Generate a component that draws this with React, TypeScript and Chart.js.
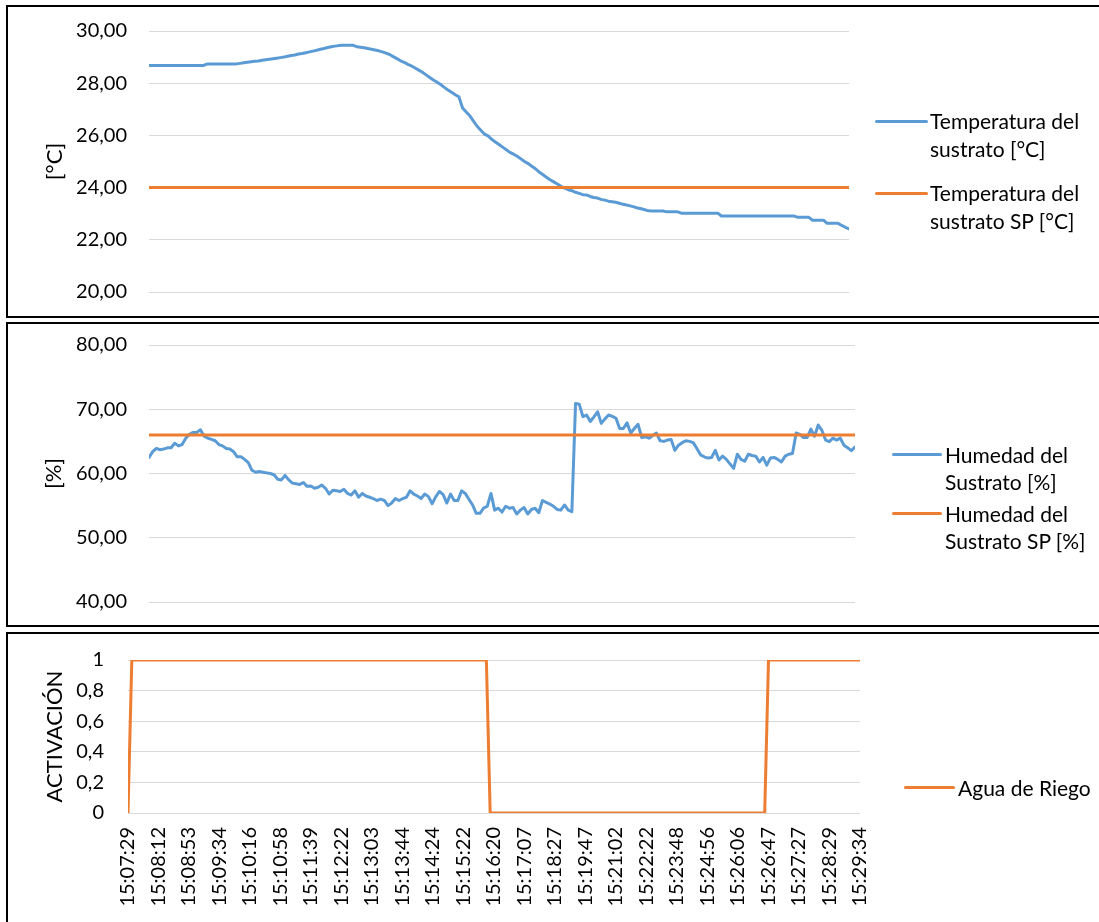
import React, { useEffect, useRef } from "react";
import { Chart, registerables } from "chart.js";

Chart.register(...registerables);

// ---------- DATA ----------
const TIME_LABELS = [
  "15:07:29", "15:08:12", "15:08:53", "15:09:34", "15:10:16", "15:10:58", "15:11:39",
  "15:12:22", "15:13:03", "15:13:44", "15:14:24", "15:15:22", "15:16:20", "15:17:07",
  "15:18:27", "15:19:47", "15:21:02", "15:22:22", "15:23:48", "15:24:56", "15:26:06",
  "15:26:47", "15:27:27", "15:28:29", "15:29:34",
];
const LABEL_STEP = 8; // one time label every 8 samples

const TEMP = [
  28.68, 28.68, 28.68, 28.68, 28.68, 28.68, 28.68, 28.68, 28.68, 28.68,
  28.68, 28.68, 28.68, 28.68, 28.68, 28.68, 28.74, 28.74, 28.74, 28.74,
  28.74, 28.74, 28.74, 28.74, 28.74, 28.76, 28.78, 28.8, 28.82, 28.84,
  28.85, 28.88, 28.9, 28.92, 28.94, 28.96, 28.98, 29.0, 29.03, 29.06,
  29.08, 29.12, 29.14, 29.17, 29.2, 29.23, 29.26, 29.3, 29.33, 29.37,
  29.4, 29.42, 29.44, 29.45, 29.45, 29.45, 29.45, 29.4, 29.38, 29.36,
  29.33, 29.3, 29.27, 29.24, 29.2, 29.15, 29.1, 29.02, 28.94, 28.86,
  28.8, 28.72, 28.66, 28.58, 28.5, 28.42, 28.32, 28.22, 28.12, 28.04,
  27.95, 27.84, 27.74, 27.65, 27.56, 27.48, 27.05, 26.9, 26.75, 26.55,
  26.35, 26.2, 26.05, 25.98, 25.85, 25.75, 25.65, 25.55, 25.45, 25.35,
  25.28, 25.2, 25.1, 25.0, 24.92, 24.82, 24.72, 24.6, 24.5, 24.4,
  24.3, 24.22, 24.14, 24.05, 23.98, 23.92, 23.88, 23.82, 23.78, 23.73,
  23.72, 23.66, 23.62, 23.6, 23.55, 23.52, 23.48, 23.46, 23.44, 23.4,
  23.36, 23.33, 23.3, 23.26, 23.22, 23.19, 23.15, 23.11, 23.1, 23.1,
  23.1, 23.1, 23.07, 23.07, 23.07, 23.07, 23.02, 23.02, 23.02, 23.02,
  23.02, 23.02, 23.02, 23.02, 23.02, 23.02, 23.02, 22.91, 22.91, 22.91,
  22.91, 22.91, 22.91, 22.91, 22.91, 22.91, 22.91, 22.91, 22.91, 22.91,
  22.91, 22.91, 22.91, 22.91, 22.91, 22.91, 22.91, 22.91, 22.86, 22.86,
  22.86, 22.86, 22.75, 22.75, 22.75, 22.75, 22.63, 22.63, 22.63, 22.63,
  22.55, 22.48, 22.42,
];
const TEMP_SP = 24;

const HUM = [
  62.5, 63.4, 63.9, 63.7, 63.8, 64.0, 64.0, 64.7, 64.3, 64.5,
  65.5, 66.1, 66.4, 66.4, 66.8, 65.8, 65.5, 65.3, 65.1, 64.5,
  64.3, 63.9, 63.8, 63.4, 62.6, 62.6, 62.2, 61.7, 60.5, 60.2,
  60.3, 60.2, 60.1, 60.0, 59.8, 59.1, 59.0, 59.7, 59.0, 58.5,
  58.4, 58.3, 58.6, 58.0, 58.05, 57.7, 57.85, 58.2, 57.7, 56.8,
  57.4, 57.3, 57.2, 57.55, 56.9, 56.65, 57.3, 56.3, 56.9, 56.5,
  56.3, 56.1, 55.8, 56.0, 55.8, 55.0, 55.4, 56.1, 55.8, 56.1,
  56.3, 57.3, 56.8, 56.5, 56.1, 56.8, 56.4, 55.3, 56.4, 57.2,
  56.7, 55.4, 56.8, 55.8, 55.8, 57.3, 56.9, 56.0, 55.1, 53.8,
  53.8, 54.6, 54.9, 56.9, 54.3, 54.6, 54.0, 54.9, 54.6, 54.7,
  53.7, 54.3, 54.7, 53.7, 54.4, 54.6, 53.9, 55.8, 55.5, 55.25,
  54.9, 54.4, 54.3, 55.1, 54.3, 54.05, 70.9, 70.8, 68.85, 69.1,
  68.1, 68.8, 69.6, 67.8, 68.5, 69.1, 68.9, 68.6, 67.0, 67.0,
  67.9, 66.3, 67.0, 67.65, 65.6, 65.7, 65.5, 65.9, 66.3, 65.1,
  65.0, 65.2, 65.3, 63.6, 64.4, 64.8, 65.1, 65.0, 64.8, 63.9,
  62.9, 62.6, 62.4, 62.5, 63.6, 62.1, 62.7, 62.2, 61.5, 60.8,
  63.0, 62.2, 61.9, 63.0, 62.8, 62.7, 61.8, 62.5, 61.3, 62.4,
  62.5, 62.2, 61.8, 62.7, 63.0, 63.1, 66.3, 66.1, 65.6, 65.6,
  66.9, 65.8, 67.55, 66.7, 65.2, 64.95, 65.5, 65.2, 65.5, 64.4,
  64.0, 63.55, 64.1,
];
const HUM_SP = 66;

const RIEGO = [
  0, 1, 1, 1, 1, 1, 1, 1, 1, 1,
  1, 1, 1, 1, 1, 1, 1, 1, 1, 1,
  1, 1, 1, 1, 1, 1, 1, 1, 1, 1,
  1, 1, 1, 1, 1, 1, 1, 1, 1, 1,
  1, 1, 1, 1, 1, 1, 1, 1, 1, 1,
  1, 1, 1, 1, 1, 1, 1, 1, 1, 1,
  1, 1, 1, 1, 1, 1, 1, 1, 1, 1,
  1, 1, 1, 1, 1, 1, 1, 1, 1, 1,
  1, 1, 1, 1, 1, 1, 1, 1, 1, 1,
  1, 1, 1, 1, 1, 0, 0, 0, 0, 0,
  0, 0, 0, 0, 0, 0, 0, 0, 0, 0,
  0, 0, 0, 0, 0, 0, 0, 0, 0, 0,
  0, 0, 0, 0, 0, 0, 0, 0, 0, 0,
  0, 0, 0, 0, 0, 0, 0, 0, 0, 0,
  0, 0, 0, 0, 0, 0, 0, 0, 0, 0,
  0, 0, 0, 0, 0, 0, 0, 0, 0, 0,
  0, 0, 0, 0, 0, 0, 0, 0, 1, 1,
  1, 1, 1, 1, 1, 1, 1, 1, 1, 1,
  1, 1, 1, 1, 1, 1, 1, 1, 1, 1,
  1, 1, 1,
];

const TEMP_TICKS = [20, 22, 24, 26, 28, 30];
const HUM_TICKS = [40, 50, 60, 70, 80];
const ACT_TICKS = [0, 0.2, 0.4, 0.6, 0.8, 1];

const TEMP_LEGEND = [
  ["Temperatura del", "sustrato [°C]"],
  ["Temperatura del", "sustrato SP [°C]"],
];
const HUM_LEGEND = [
  ["Humedad del", "Sustrato [%]"],
  ["Humedad del", "Sustrato SP [%]"],
];
const RIEGO_LEGEND = [["Agua de Riego"]];

// ---------- STYLE ----------
const BLUE = "#5B9BD5";
const ORANGE = "#ED7D31";
const GRID = "#d9d9d9";
const FONT = "Lato";
const TICK_SIZE = 20;
const TITLE_SIZE = 22;
const LEGEND_SIZE = 21;
const CANVAS_W = 1090;

const fmt2 = (v: number) => v.toFixed(2).replace(".", ",");
const fmtAct = (v: number) => String(Math.round(v * 10) / 10).replace(".", ",");

const pts = (arr: number[]) => arr.map((y, i) => ({ x: i, y }));

function lineDs(label: string, data: number[], color: string, order: number) {
  return {
    label,
    data: pts(data),
    borderColor: color,
    backgroundColor: color,
    borderWidth: 3,
    pointRadius: 0,
    tension: 0,
    fill: false,
    borderJoinStyle: "round",
    borderCapStyle: "round",
    order,
  };
}

function yScale(ticks: number[], fmt: (v: number) => string, width: number, pad: number, title: string, titlePad: number) {
  return {
    type: "linear",
    min: ticks[0],
    max: ticks[ticks.length - 1],
    afterBuildTicks: (s: any) => {
      s.ticks = ticks.map((v) => ({ value: v }));
    },
    afterFit: (s: any) => {
      s.width = width;
      s.paddingTop = 0;
      s.paddingBottom = 0;
    },
    ticks: {
      callback: (v: any) => fmt(Number(v)),
      padding: pad,
      color: "#000",
      font: { family: FONT, size: TICK_SIZE },
    },
    grid: { color: GRID, lineWidth: 1, drawTicks: false },
    border: { display: false },
    title: {
      display: true,
      text: title,
      color: "#000",
      font: { family: FONT, size: TITLE_SIZE },
      padding: { top: titlePad, bottom: 0 },
    },
  };
}

const hiddenX = (n: number) => ({ type: "linear", display: false, min: 0, max: n - 1 });

function baseOptions(padding: any, scales: any) {
  return {
    responsive: false,
    maintainAspectRatio: false,
    animation: false,
    events: [],
    layout: { padding },
    plugins: { legend: { display: false }, tooltip: { enabled: false } },
    scales,
  };
}

function tempConfig(): any {
  const sp = TEMP.map(() => TEMP_SP);
  return {
    type: "line",
    data: {
      datasets: [
        lineDs(TEMP_LEGEND[0].join(" "), TEMP, BLUE, 1),
        lineDs(TEMP_LEGEND[1].join(" "), sp, ORANGE, 0),
      ],
    },
    options: baseOptions(
      { left: 0, right: CANVAS_W - (849 - 8), top: 24, bottom: 24 },
      { x: hiddenX(TEMP.length), y: yScale(TEMP_TICKS, fmt2, 141, 22, "[°C]", 34) }
    ),
  };
}

function humConfig(): any {
  const sp = HUM.map(() => HUM_SP);
  return {
    type: "line",
    data: {
      datasets: [
        lineDs(HUM_LEGEND[0].join(" "), HUM, BLUE, 1),
        lineDs(HUM_LEGEND[1].join(" "), sp, ORANGE, 0),
      ],
    },
    options: baseOptions(
      { left: 0, right: CANVAS_W - (855 - 8), top: 21, bottom: 23 },
      { x: hiddenX(HUM.length), y: yScale(HUM_TICKS, fmt2, 141, 22, "[%]", 33) }
    ),
  };
}

function riegoConfig(): any {
  return {
    type: "line",
    data: { datasets: [lineDs(RIEGO_LEGEND[0][0], RIEGO, ORANGE, 0)] },
    options: baseOptions(
      { left: 0, right: CANVAS_W - (860 - 8), top: 26, bottom: 0 },
      {
        x: {
          type: "linear",
          min: 0,
          max: RIEGO.length - 1,
          afterBuildTicks: (s: any) => {
            s.ticks = TIME_LABELS.map((_, i) => ({ value: i * LABEL_STEP }));
          },
          afterFit: (s: any) => {
            s.height = 100;
          },
          ticks: {
            autoSkip: false,
            minRotation: 90,
            maxRotation: 90,
            padding: 14,
            color: "#000",
            font: { family: FONT, size: TICK_SIZE },
            callback: (v: any) => TIME_LABELS[Math.round(Number(v) / LABEL_STEP)],
          },
          grid: { display: false, drawTicks: false },
          border: { display: false },
        },
        y: yScale(ACT_TICKS, fmtAct, 120, 24, "ACTIVACIÓN", 34),
      }
    ),
  };
}

function ChartCanvas({ make, top, height }: { make: () => any; top: number; height: number }) {
  const ref = useRef<HTMLCanvasElement>(null);
  useEffect(() => {
    const chart = new Chart(ref.current as HTMLCanvasElement, make());
    return () => chart.destroy();
  }, []);
  return (
    <canvas
      ref={ref}
      width={CANVAS_W}
      height={height}
      style={{ position: "absolute", left: 8, top, width: CANVAS_W, height, display: "block" }}
    />
  );
}

type LegendItem = { color: string; lines: string[]; y: number; textY?: number };

function Legend({ items, markerLeft, markerWidth, textLeft, lineHeight }: {
  items: LegendItem[]; markerLeft: number; markerWidth: number; textLeft: number; lineHeight: number;
}) {
  return (
    <>
      {items.map((it, k) => (
        <React.Fragment key={k}>
          <div
            style={{
              position: "absolute",
              left: markerLeft,
              top: it.y - 1.5,
              width: markerWidth,
              height: 3,
              background: it.color,
              borderRadius: 1.5,
            }}
          />
          <div
            style={{
              position: "absolute",
              left: textLeft,
              top: (it.textY ?? it.y) - lineHeight / 2,
              fontFamily: FONT,
              fontSize: LEGEND_SIZE,
              lineHeight: `${lineHeight}px`,
              color: "#000",
              whiteSpace: "nowrap",
            }}
          >
            {it.lines.map((l, j) => (
              <div key={j}>{l}</div>
            ))}
          </div>
        </React.Fragment>
      ))}
    </>
  );
}

const panel = (top: number, height: number): React.CSSProperties => ({
  position: "absolute",
  left: 6,
  top,
  width: 1110,
  height,
  border: "2px solid #000",
  boxSizing: "border-box",
  background: "#fff",
});

export default function App() {
  return (
    <div
      style={{
        position: "absolute",
        left: 0,
        top: 0,
        width: 1099,
        height: 922,
        overflow: "hidden",
        background: "#fff",
      }}
    >
      <div style={panel(5, 313)} />
      <div style={panel(322, 305)} />
      <div style={panel(632, 310)} />

      <ChartCanvas make={tempConfig} top={7} height={309} />
      <ChartCanvas make={humConfig} top={324} height={301} />
      <ChartCanvas make={riegoConfig} top={634} height={279} />

      <Legend
        items={[
          { color: BLUE, lines: TEMP_LEGEND[0], y: 121 },
          { color: ORANGE, lines: TEMP_LEGEND[1], y: 193 },
        ]}
        markerLeft={875}
        markerWidth={53}
        textLeft={930}
        lineHeight={28}
      />
      <Legend
        items={[
          { color: BLUE, lines: HUM_LEGEND[0], y: 454 },
          { color: ORANGE, lines: HUM_LEGEND[1], y: 513 },
        ]}
        markerLeft={892}
        markerWidth={50}
        textLeft={945}
        lineHeight={27}
      />
      <Legend
        items={[{ color: ORANGE, lines: RIEGO_LEGEND[0], y: 787 }]}
        markerLeft={904}
        markerWidth={51}
        textLeft={958}
        lineHeight={27}
      />
    </div>
  );
}
